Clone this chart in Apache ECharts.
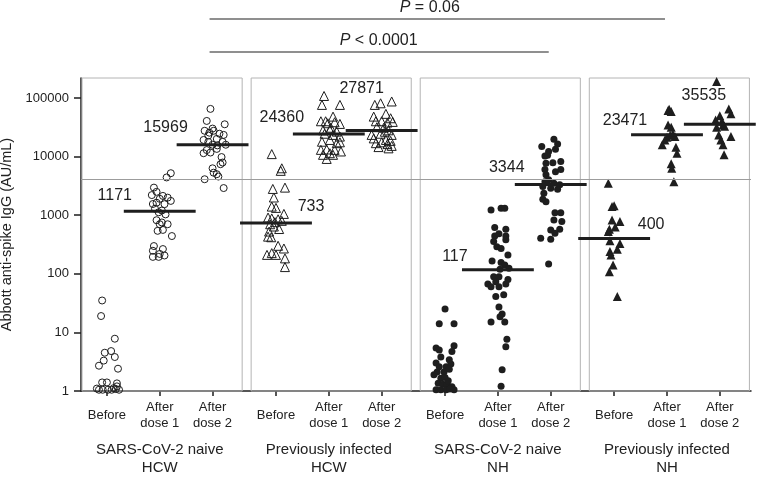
<!DOCTYPE html>
<html><head><meta charset="utf-8">
<script src="https://cdn.jsdelivr.net/npm/echarts@6/dist/echarts.min.js"></script>
<style>html,body{margin:0;padding:0;background:#fff}#c{width:760px;height:478px}</style>
</head><body><div id="c"></div>
<script>
// ---------- data ----------
const categories = ['Before', 'After\ndose 1', 'After\ndose 2'];
const groupNames = ['SARS-CoV-2 naive\nHCW', 'Previously infected\nHCW', 'SARS-CoV-2 naive\nNH', 'Previously infected\nNH'];
const yTicks = [1, 10, 100, 1000, 10000, 100000];
const medians = [[null, 1171, 15969], [733, 24360, 27871], [null, 117, 3344], [400, 23471, 35535]];
const threshold = 4160;
const comparisons = [
  { from: [0, 2], to: [3, 1], text: 'P = 0.06' },
  { from: [0, 2], to: [2, 2], text: 'P < 0.0001' }
];
// each point: [horizontal jitter (category units), value AU/mL]
const naiveHcwBefore = [[-0.09,35],[-0.11,19],[0.15,7.8],[-0.04,4.5],[0.08,4.8],[0.15,3.8],[-0.06,3.3],[-0.15,2.7],[0.21,2.4],[-0.09,1.4],[0,1.4],[0.19,1.35],[0.19,1.2],[-0.15,1.05],[-0.08,1.05],[0.02,1.05],[0.09,1.05],[0.17,1.08],[0.23,1.05],[-0.19,1.1],[0.13,1.12]];
const naiveHcwDose1 = [[0.21,5200],[0.13,4400],[-0.11,2950],[-0.06,2500],[-0.15,2200],[0.06,2130],[0.15,1990],[0,1900],[0.21,1750],[-0.13,1550],[-0.06,1630],[0.09,1540],[-0.09,1290],[0.04,1200],[-0.02,1120],[0.11,1030],[-0.06,820],[0.04,750],[0.15,700],[0,700],[0.06,560],[-0.04,540],[0.23,440],[-0.11,297],[-0.13,247],[0.06,264],[0,218],[-0.13,194],[-0.02,194],[0.09,205]];
const naiveHcwDose2 = [[-0.04,65000],[-0.11,40500],[0.23,35500],[0,30000],[-0.15,27500],[0.02,27500],[0.13,24500],[-0.08,22800],[0.21,23400],[0.08,20000],[-0.17,19200],[-0.08,17800],[0.19,17800],[0,15900],[0.25,15900],[0.09,15500],[-0.11,12900],[0.08,13500],[-0.17,11400],[-0.04,11700],[0.17,9800],[0.19,7900],[0.15,7400],[0,6300],[0.02,5300],[0.08,5000],[0.11,4560],[-0.15,4100],[0.21,2900],[-0.06,25500]];
const infHcwBefore = [[-0.08,11000],[0.11,6300],[0.09,5700],[-0.06,2800],[0.17,2950],[-0.04,2000],[-0.08,1400],[0,1330],[0.15,1050],[-0.15,910],[-0.08,880],[0.04,850],[0.11,800],[-0.04,640],[0.06,580],[-0.13,525],[-0.15,430],[-0.09,420],[0.04,300],[0.15,270],[-0.17,210],[-0.08,225],[0,210],[0.17,183],[0.17,130],[-0.02,760],[-0.11,700]];
const infHcwDose1 = [[-0.09,108000],[-0.13,76000],[0.21,76000],[-0.15,40000],[-0.06,40000],[0.08,48000],[-0.02,37000],[0.11,38500],[0.21,36000],[-0.11,28000],[0.02,28500],[0.15,26600],[0.08,23400],[0.21,21900],[-0.13,17900],[0.02,19200],[0.15,16900],[0.21,17500],[-0.15,13000],[-0.04,13200],[0.11,13000],[0.23,12200],[-0.11,10700],[0.02,11400],[0.08,10700],[-0.04,9100],[-0.08,24500],[0.04,31000]];
const infHcwDose2 = [[-0.13,76000],[-0.02,81000],[0.19,87000],[-0.15,48000],[0.08,53500],[0.17,45000],[-0.11,40000],[0,40000],[0.11,38000],[0.21,39000],[-0.09,31700],[0.04,31000],[0.13,28000],[-0.19,23400],[-0.02,24500],[0.19,23400],[-0.15,20400],[0.08,19200],[0.17,18500],[-0.11,16900],[0,17500],[0.11,16300],[0.19,15200],[0.13,13800],[-0.06,14500],[0.06,26500]];
const naiveNhBefore = [[0,25],[-0.11,14],[0.17,14],[-0.17,5.4],[-0.11,5.0],[0.17,5.9],[0.13,4.7],[-0.08,3.8],[0.08,3.4],[-0.17,3.0],[-0.11,2.6],[0.02,2.6],[0.11,2.9],[-0.15,2.1],[-0.02,2.1],[0.08,2.35],[-0.08,1.65],[0,1.7],[-0.13,1.35],[-0.04,1.3],[0.04,1.3],[0.13,1.18],[-0.17,1.05],[-0.08,1.05],[0.02,1.05],[0.09,1.08],[0.17,1.05],[0.06,1.5],[-0.21,1.9]];
const naiveNhDose1 = [[-0.13,1230],[0.06,1310],[0.13,1310],[-0.06,615],[0.15,575],[-0.06,440],[0.02,480],[0.15,440],[-0.08,355],[0.15,380],[-0.02,290],[0.06,270],[0.19,210],[-0.11,165],[0.06,155],[0.13,141],[0.04,120],[0.21,124],[-0.08,89],[0.02,89],[-0.19,67],[-0.04,73],[0.19,80],[-0.13,60],[0.02,60],[0.15,67],[-0.04,41],[0.11,44],[0.02,27],[0.08,20.6],[-0.13,15],[0.04,18.5],[0.13,15],[0.17,7.6],[0.15,5.7],[0.08,2.3],[0.06,1.2]];
const naiveNhDose2 = [[0.06,19700],[0.13,16400],[-0.17,14800],[-0.04,12200],[0.09,13300],[-0.11,10200],[-0.06,10500],[0.19,8200],[-0.09,7700],[0.04,7800],[0.19,6000],[-0.11,6000],[-0.09,4900],[0.09,5500],[-0.11,3700],[-0.04,4000],[0.06,3500],[0.17,3300],[-0.15,3080],[0,2870],[0.13,2770],[-0.13,2360],[-0.15,1870],[-0.09,1700],[0.08,1100],[0.19,1100],[0.06,830],[0.21,780],[0.17,575],[0,560],[0.08,490],[-0.19,405],[0,390],[-0.04,147]];
const infNhBefore = [[-0.11,3500],[-0.04,1400],[0,1450],[-0.04,830],[0.11,780],[0.02,630],[-0.09,575],[-0.11,525],[-0.08,367],[0.11,330],[0.06,263],[-0.08,240],[-0.06,210],[-0.02,141],[-0.09,108],[0.06,41]];
const infNhDose1 = [[0.04,64000],[0.08,58500],[0.02,61000],[0.02,34600],[0.08,31700],[0.11,24300],[0.15,21900],[0,21300],[-0.04,19200],[-0.09,15900],[0.17,14400],[0.19,11400],[0.08,7500],[0.09,6300],[0.13,3730],[0.06,23000]];
const infNhDose2 = [[-0.06,190000],[0.17,65000],[0.21,53500],[0,49500],[-0.08,42000],[0.04,40000],[0.06,34600],[-0.06,31700],[0.09,33000],[-0.02,23400],[0.21,21900],[0.02,19200],[0.06,15900],[0.08,10700]];

const columns = [
  [naiveHcwBefore, naiveHcwDose1, naiveHcwDose2],
  [infHcwBefore, infHcwDose1, infHcwDose2],
  [naiveNhBefore, naiveNhDose1, naiveNhDose2],
  [infNhBefore, infNhDose1, infNhDose2]
];

// ---------- layout / style ----------
const FONT = '"Liberation Sans", Arial, Helvetica, sans-serif';
const INK = '#1e1e1e';
const GROUP_STEP = 3.2, X_MIN = -0.49, X_MAX = 12.19, Y_MAX = Math.pow(10, 5.34);
const PANEL = [-0.47, 2.56];
const BAR_HALF = 0.68;
const markers = [
  { symbol: 'circle', size: 7, fill: 'rgba(0,0,0,0)', border: 1 },
  { symbol: 'triangle', size: 9, fill: 'rgba(0,0,0,0)', border: 1 },
  { symbol: 'circle', size: 7, fill: INK, border: 0 },
  { symbol: 'triangle', size: 9, fill: INK, border: 0 }
];
const labelOffsets = [
  [null, [-45, -16], [-47, -17]],
  [[35, -16], [-47, -16], [-20, -42]],
  [null, [-43, -13], [-44, -17]],
  [[37, -14], [-42, -14], [-16, -29]]
];
const bracketLayout = [{ lineY: 19, textY: 8, textDx: -10 }, { lineY: 52, textY: 41, textDx: -3 }];

const pos = (g, i) => g * GROUP_STEP + i;
const catPositions = [], catLabels = [], groupCenters = [];
groupNames.forEach((n, g) => {
  categories.forEach((c, i) => { catPositions.push(pos(g, i)); catLabels.push(c); });
  groupCenters.push(pos(g, 1));
});
const lookup = (arr, labels, v) => {
  for (let k = 0; k < arr.length; k++) if (Math.abs(arr[k] - v) < 1e-6) return labels[k];
  return '';
};

const scatterSeries = columns.map((cols, g) => ({
  type: 'scatter',
  symbol: markers[g].symbol,
  symbolSize: markers[g].size,
  itemStyle: { color: markers[g].fill, borderColor: INK, borderWidth: markers[g].border, opacity: 1 },
  emphasis: { disabled: true },
  z: 3,
  data: cols.flatMap((col, i) => col.map(([j, v]) => [pos(g, i) + j, v]))
}));

// panels + threshold line carried by first series
scatterSeries[0].markArea = {
  silent: true,
  itemStyle: { color: 'rgba(0,0,0,0)', borderColor: '#b4b4b4', borderWidth: 1 },
  data: groupNames.map((n, g) => [
    { xAxis: pos(g, 0) + PANEL[0], yAxis: 1 },
    { xAxis: pos(g, 0) + PANEL[1], yAxis: Y_MAX }
  ])
};
scatterSeries[0].markLine = {
  silent: true, symbol: ['none', 'none'], label: { show: false },
  lineStyle: { color: '#9c9c9c', width: 1, type: 'solid' },
  data: [{ yAxis: threshold }]
};

const medianData = [];
medians.forEach((row, g) => row.forEach((m, i) => { if (m != null) medianData.push([pos(g, i), m, g, i]); }));

const medianSeries = {
  type: 'custom', clip: false, z: 5, silent: true,
  encode: { x: 0, y: 1 },
  data: medianData,
  renderItem: (params, api) => {
    const x = api.value(0), v = api.value(1), g = api.value(2), i = api.value(3);
    const p1 = api.coord([x - BAR_HALF, v]), p2 = api.coord([x + BAR_HALF, v]), c = api.coord([x, v]);
    const off = labelOffsets[g][i];
    return {
      type: 'group', children: [
        { type: 'line', shape: { x1: p1[0], y1: p1[1], x2: p2[0], y2: p2[1] }, style: { stroke: INK, lineWidth: 3 } },
        { type: 'text', x: c[0] + off[0], y: c[1] + off[1],
          style: { text: String(v), fontSize: 16, fontFamily: FONT, fill: '#222', align: 'center', verticalAlign: 'middle' } }
      ]
    };
  }
};

const bracketSeries = {
  type: 'custom', clip: false, z: 5, silent: true,
  encode: { x: [0, 1], y: 2 },
  data: comparisons.map((c, k) => [pos(c.from[0], c.from[1]), pos(c.to[0], c.to[1]), 1, k]),
  renderItem: (params, api) => {
    const k = api.value(3), L = bracketLayout[k];
    const a = api.coord([api.value(0), 1])[0], b = api.coord([api.value(1), 1])[0];
    const t = comparisons[k].text;
    return {
      type: 'group', children: [
        { type: 'line', shape: { x1: a - 3, y1: L.lineY, x2: b - 2, y2: L.lineY }, style: { stroke: '#6a6a6a', lineWidth: 1.5 } },
        { type: 'text', x: (a + b) / 2 + L.textDx, y: L.textY,
          style: { text: '{i|' + t.charAt(0) + '}{n|' + t.slice(1) + '}', align: 'center', verticalAlign: 'middle',
            rich: { i: { fontStyle: 'italic', fontSize: 16, fontFamily: FONT, fill: '#222' },
                    n: { fontSize: 16, fontFamily: FONT, fill: '#222' } } } }
      ]
    };
  }
};

const chart = echarts.init(document.getElementById('c'), null, { renderer: 'canvas' });
chart.setOption({
  animation: false,
  backgroundColor: '#fff',
  textStyle: { fontFamily: FONT },
  grid: { left: 81, right: 9, top: 78, bottom: 87, containLabel: false, outerBoundsMode: 'none' },
  xAxis: [
    {
      type: 'value', min: X_MIN, max: X_MAX, splitLine: { show: false },
      axisLine: { show: true, onZero: false, lineStyle: { color: INK, width: 1.5 } },
      axisTick: { show: true, customValues: catPositions, length: 5, lineStyle: { color: INK, width: 1.5 } },
      axisLabel: { show: true, customValues: catPositions, formatter: v => lookup(catPositions, catLabels, v),
        color: '#222', fontSize: 13, lineHeight: 16, verticalAlign: 'middle', margin: 24, fontFamily: FONT }
    },
    {
      type: 'value', min: X_MIN, max: X_MAX, position: 'bottom', offset: 0, splitLine: { show: false },
      axisLine: { show: false }, axisTick: { show: false },
      axisLabel: { show: true, customValues: groupCenters, formatter: v => lookup(groupCenters, groupNames, v),
        color: '#222', fontSize: 15, lineHeight: 18, verticalAlign: 'middle', margin: 68, fontFamily: FONT }
    }
  ],
  yAxis: {
    type: 'log', logBase: 10, min: 1, max: Y_MAX, splitLine: { show: false },
    name: 'Abbott anti-spike IgG (AU/mL)', nameLocation: 'middle', nameGap: 66, nameRotate: 90,
    nameTextStyle: { fontSize: 14.5, color: '#222', fontFamily: FONT },
    axisLine: { show: true, onZero: false, lineStyle: { color: INK, width: 1.5 } },
    axisTick: { show: true, customValues: yTicks, length: 7, lineStyle: { color: INK, width: 1.5 } },
    axisLabel: { show: true, customValues: yTicks, formatter: v => String(Math.round(v)),
      color: '#222', fontSize: 13, margin: 12, fontFamily: FONT }
  },
  series: [...scatterSeries, medianSeries, bracketSeries]
});
</script></body></html>
